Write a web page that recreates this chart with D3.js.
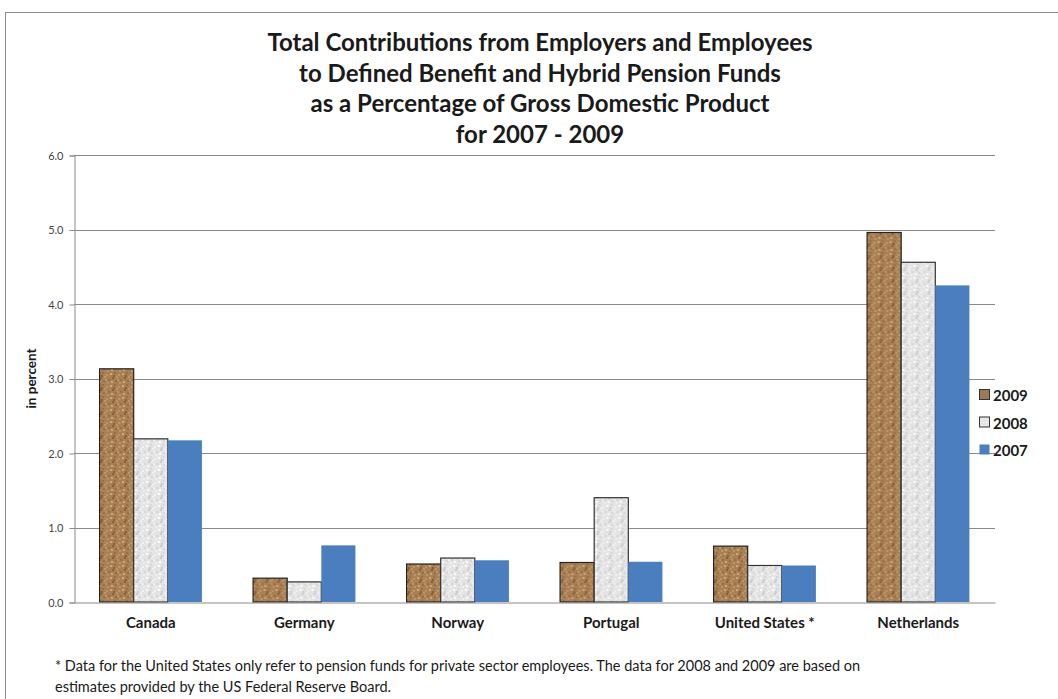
<!DOCTYPE html>
<html>
<head>
<meta charset="utf-8">
<script src="https://cdn.jsdelivr.net/npm/d3@7"></script>
<style>
  body { margin: 0; background: #fff; }
  text { font-family: Lato, "Open Sans", sans-serif; }
</style>
</head>
<body>
<div id="chart"></div>
<script>
var categories = ["Canada", "Germany", "Norway", "Portugal", "United States *", "Netherlands"];
var years = ["2009", "2008", "2007"];
var values2009 = [3.13, 0.32, 0.51, 0.53, 0.75, 4.96];
var values2008 = [2.19, 0.27, 0.59, 1.40, 0.49, 4.56];
var values2007 = [2.17, 0.76, 0.56, 0.54, 0.49, 4.25];
var yTicks = [0, 1, 2, 3, 4, 5, 6];
var titleLines = [
    "Total Contributions from Employers and Employees",
    "to Defined Benefit and Hybrid Pension Funds",
    "as a Percentage of Gross Domestic Product",
    "for 2007 - 2009"
];
var footnote = [
    "* Data  for the United States only refer to pension funds for private sector employees.  The data for 2008 and 2009 are based on",
    "estimates provided by the US Federal Reserve Board."
];

var series = [values2009, values2008, values2007];

var width = 1058, height = 699;
var margins = { left: 74, right: 63, top: 155, bottom: 97 };

var svg = d3.select("#chart").append("svg")
    .attr("width", width)
    .attr("height", height);

// textures for the two patterned series
var defs = svg.append("defs");
function speckle(id, base, dark, light) {
    var p = defs.append("pattern")
        .attr("id", id)
        .attr("patternUnits", "userSpaceOnUse")
        .attr("width", 12).attr("height", 12);
    p.append("rect").attr("width", 12).attr("height", 12).attr("fill", base);
    var dots = [[1,2],[5,1],[9,3],[3,6],[7,5],[11,8],[2,10],[6,9],[10,11],[4,4],[8,8]];
    dots.forEach(function (d, i) {
        p.append("circle")
            .attr("cx", d[0]).attr("cy", d[1])
            .attr("r", i % 3 === 0 ? 1.1 : 0.8)
            .attr("fill", i % 2 === 0 ? light : dark);
    });
}
speckle("tex2009", "#a98054", "#7d5a35", "#d2b184");
speckle("tex2008", "#e4e4e4", "#c6c6c6", "#ffffff");

var fills = { "2009": "url(#tex2009)", "2008": "url(#tex2008)", "2007": "#4a7ebf" };
var legendFills = { "2009": "#9c7a56", "2008": "#e8e8e8", "2007": "#4a7ebf" };
var strokes = { "2009": "#222", "2008": "#333", "2007": "none" };

// outer frame
svg.append("rect")
    .attr("x", 5.5).attr("y", 12.5)
    .attr("width", 1070).attr("height", 720)
    .attr("fill", "none")
    .attr("stroke", "#8c8c8c");

var x0 = d3.scaleBand()
    .domain(categories)
    .range([margins.left, width - margins.right])
    .paddingInner(0)
    .paddingOuter(0);

var x1 = d3.scaleBand()
    .domain(years)
    .range([0, x0.bandwidth()])
    .paddingOuter(0.75)
    .paddingInner(0);

var y = d3.scaleLinear()
    .domain([0, 6])
    .range([height - margins.bottom, margins.top]);

// gridlines
svg.append("g")
    .selectAll("line")
    .data(yTicks.filter(function (d) { return d > 0; }))
    .enter().append("line")
    .attr("x1", margins.left).attr("x2", width - margins.right)
    .attr("y1", function (d) { return Math.round(y(d)) + 0.5; })
    .attr("y2", function (d) { return Math.round(y(d)) + 0.5; })
    .attr("stroke", "#8a8a8a");

var yAxis = d3.axisLeft(y)
    .tickValues(yTicks)
    .tickFormat(d3.format(".1f"))
    .tickSize(5)
    .tickPadding(6);

var gy = svg.append("g")
    .attr("transform", "translate(" + (margins.left + 0.5) + ",0.5)")
    .call(yAxis);
gy.select(".domain").attr("stroke", "#8a8a8a");
gy.selectAll(".tick line").attr("stroke", "#8a8a8a");
gy.selectAll(".tick text")
    .style("font-family", "Lato, sans-serif")
    .style("font-size", "11px")
    .attr("fill", "#444");

// bars
var groups = svg.append("g")
    .selectAll("g")
    .data(categories)
    .enter().append("g")
    .attr("transform", function (d) { return "translate(" + x0(d) + ",0)"; });

groups.selectAll("rect")
    .data(function (c, ci) {
        return years.map(function (yr, si) { return { year: yr, value: series[si][ci] }; });
    })
    .enter().append("rect")
    .attr("x", function (d) { return x1(d.year); })
    .attr("y", function (d) { return y(d.value); })
    .attr("width", x1.bandwidth())
    .attr("height", function (d) { return y(0) - y(d.value); })
    .attr("fill", function (d) { return fills[d.year]; })
    .attr("stroke", function (d) { return strokes[d.year]; })
    .attr("stroke-width", 1.2);

// x axis
var xAxis = d3.axisBottom(x0).tickSize(0).tickPadding(15);
var gx = svg.append("g")
    .attr("transform", "translate(0," + (y(0) + 0.5) + ")")
    .call(xAxis);
gx.select(".domain").attr("stroke", "#8a8a8a");
gx.selectAll(".tick text")
    .style("font-family", "Lato, sans-serif")
    .style("font-size", "15px")
    .style("font-weight", "bold")
    .attr("fill", "#1a1a1a");

// axis title
svg.append("text")
    .attr("transform", "translate(36," + y(3) + ") rotate(-90)")
    .attr("text-anchor", "middle")
    .style("font-size", "13.5px")
    .style("font-weight", "bold")
    .attr("fill", "#1a1a1a")
    .text("in percent");

// chart title
svg.append("g").selectAll("text")
    .data(titleLines)
    .enter().append("text")
    .attr("x", 540)
    .attr("y", function (d, i) { return 51 + i * 30.5; })
    .attr("text-anchor", "middle")
    .style("font-size", "24px")
    .style("font-weight", "bold")
    .attr("fill", "#1a1a1a")
    .text(function (d) { return d; });

// legend
var legend = svg.append("g")
    .selectAll("g")
    .data(years)
    .enter().append("g")
    .attr("transform", function (d, i) { return "translate(980," + (401 + i * 27.5) + ")"; });
legend.append("rect")
    .attr("x", -0.5).attr("y", -11.5)
    .attr("width", 10).attr("height", 10)
    .attr("fill", function (d) { return legendFills[d]; })
    .attr("stroke", function (d) { return d === "2007" ? "none" : "#333"; });
legend.append("text")
    .attr("x", 13).attr("y", 0)
    .style("font-size", "15px")
    .style("font-weight", "bold")
    .attr("fill", "#1a1a1a")
    .text(function (d) { return d; });

// footnote
svg.append("g").selectAll("text")
    .data(footnote)
    .enter().append("text")
    .attr("x", 55)
    .attr("y", function (d, i) { return 671 + i * 21; })
    .style("font-size", "14.5px")
    .attr("fill", "#1a1a1a")
    .text(function (d) { return d; });
</script>
</body>
</html>
